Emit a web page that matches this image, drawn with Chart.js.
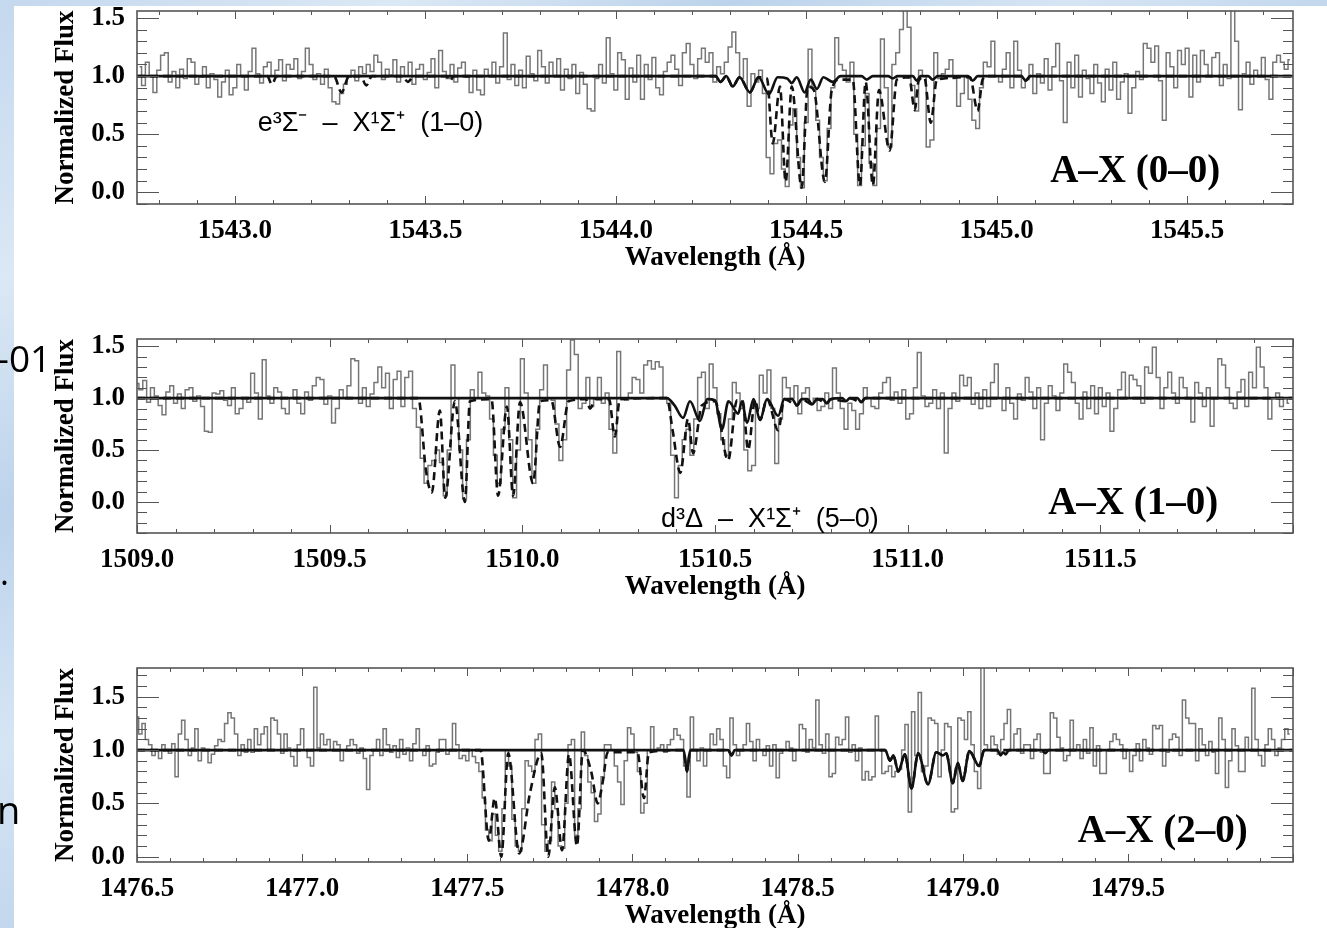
<!DOCTYPE html>
<html>
<head>
<meta charset="utf-8">
<script src="https://cdn.jsdelivr.net/npm/chart.js@4.4.0/dist/chart.umd.min.js"></script>
<style>
html,body{margin:0;padding:0;width:1327px;height:928px;overflow:hidden;background:#fff;}
.strip{position:absolute;background:linear-gradient(160deg,#c4d8ee 0%,#dbe8f5 30%,#bcd3eb 55%,#d6e5f4 80%,#c2d7ed 100%);}
canvas{position:absolute;left:0;}
.slide{position:absolute;font-family:"Open Sans","Noto Sans",sans-serif;color:#000;white-space:nowrap;line-height:1;}
</style>
</head>
<body>
<div class="strip" style="left:0;top:0;width:14px;height:928px"></div>
<div class="strip" style="left:0;top:0;width:1327px;height:6px"></div>
<canvas id="c1" width="1327" height="299" style="top:-25px"></canvas>
<canvas id="c2" width="1327" height="300" style="top:303px"></canvas>
<canvas id="c3" width="1327" height="300" style="top:632px"></canvas>
<div class="slide" style="left:-3px;top:339px;font-size:37px">-01</div>
<div class="slide" style="left:0px;top:555px;font-size:34px">.</div>
<div class="slide" style="left:-3px;top:790px;font-size:38px">n</div>
<script>
// ---- data ----
const binStep = 0.01;

// A-X (0-0), bins start at 1542.75 A
const wave1Start = 1542.75;
const flux1 = [
 1.08,0.92,1.12,1.0,0.86,1.05,1.18,1.2,0.95,1.04,
 0.9,1.06,0.98,1.15,1.12,0.93,0.99,1.08,0.9,1.02,
 0.97,0.82,0.95,1.05,0.84,0.9,1.1,1.0,0.88,1.04,
 1.24,1.02,0.94,1.08,1.12,1.0,1.05,1.14,0.96,1.1,
 1.06,1.15,0.98,1.04,1.24,1.1,0.97,1.02,0.93,1.06,
 0.9,0.78,0.76,0.85,0.93,0.99,1.05,0.96,1.08,1.02,
 1.1,1.04,1.18,1.12,0.97,1.06,1.01,1.14,0.95,1.08,
 1.0,1.12,0.93,1.06,1.1,0.97,1.03,1.15,0.9,1.22,
 1.04,0.98,1.1,0.95,1.07,1.12,0.99,0.86,1.05,0.88,
 0.84,1.06,1.0,1.12,0.94,1.08,1.37,0.97,1.1,0.92,
 1.05,0.9,1.17,1.02,0.96,1.22,1.08,0.94,1.12,1.0,
 1.15,0.88,1.06,0.98,1.1,0.85,1.03,0.93,0.72,0.7,
 0.98,1.1,0.94,1.33,1.02,0.88,1.2,1.14,0.8,1.07,
 0.95,1.18,0.8,1.1,0.97,1.16,0.9,0.84,1.04,1.12,
 1.18,1.06,0.92,1.2,1.28,1.1,0.98,1.15,1.24,1.12,
 1.2,0.95,1.08,1.02,1.12,1.25,1.38,1.2,0.98,1.15,
 0.74,1.02,0.95,1.05,0.85,0.3,0.16,0.42,0.45,0.2,
 0.05,0.58,0.72,0.3,0.04,0.6,1.23,0.9,0.62,0.3,
 0.1,0.55,0.9,1.33,1.1,1.05,0.95,1.12,0.5,0.06,
 0.4,0.85,0.25,0.06,0.55,1.32,0.9,0.39,1.1,1.2,
 1.4,1.57,1.42,0.92,0.7,1.05,1.0,0.39,0.45,1.2,
 0.98,1.02,1.06,1.14,0.98,0.74,0.85,1.0,0.8,0.62,
 0.55,0.9,1.12,1.08,1.3,1.0,0.95,1.06,1.2,0.9,
 1.3,1.05,0.9,0.97,1.1,0.85,1.02,0.94,1.15,0.88,
 1.08,1.28,0.96,0.6,1.12,0.9,1.18,0.82,1.05,0.98,
 0.85,1.1,0.94,0.78,1.06,0.88,1.12,0.8,0.95,1.02,
 0.68,0.9,1.04,0.97,1.28,1.24,1.12,1.26,0.96,0.62,
 1.2,1.08,0.9,1.22,1.1,1.24,0.82,1.18,0.95,1.22,
 1.1,1.0,1.16,1.2,0.92,1.1,0.98,1.57,1.3,0.71,
 1.02,1.12,0.93,1.05,1.0,1.16,0.97,0.8,1.12,1.18,
 1.12,1.06,1.14
];
const solid1 = [[1542.743,1],[1544.262,1],[1544.275,0.95],[1544.29,1],[1544.307,0.91],[1544.325,0.99],[1544.352,0.86],
 [1544.375,0.99],[1544.402,0.845],[1544.425,0.99],[1544.45,0.98],[1544.462,0.94],[1544.475,0.99],[1544.496,0.86],
 [1544.512,0.97],[1544.528,0.89],[1544.545,0.99],[1544.57,0.95],[1544.59,1],[1544.645,1],[1544.659,0.97],[1544.675,1],
 [1544.715,1],[1544.727,0.98],[1544.74,1],[1544.78,1],[1544.79,0.96],[1544.8,1],[1544.82,1],[1544.832,0.97],
 [1544.845,1],[1544.925,1],[1544.937,0.96],[1544.95,1],[1545.065,1],[1545.076,0.96],[1545.088,1],[1545.778,1]];
const dashed1 = [[1542.743,1],[1543.085,1],[1543.097,0.93],[1543.11,1],[1543.26,1],[1543.28,0.86],[1543.3,1],
 [1543.33,1],[1543.345,0.92],[1543.36,1],[1543.44,1],[1543.454,0.95],[1543.47,1],[1543.555,1],[1543.565,0.96],
 [1543.575,1],[1544.262,1],[1544.275,0.95],[1544.29,1],[1544.307,0.91],[1544.325,0.99],[1544.352,0.86],[1544.375,0.99],
 [1544.397,0.98],[1544.412,0.42],[1544.431,0.91],[1544.446,0.09],[1544.462,0.91],[1544.488,0.04],[1544.504,0.91],
 [1544.52,0.88],[1544.549,0.09],[1544.567,0.88],[1544.588,0.97],[1544.622,0.97],[1544.641,0.06],[1544.656,0.95],
 [1544.675,0.06],[1544.691,0.88],[1544.719,0.36],[1544.738,0.97],[1544.77,0.99],[1544.785,0.71],[1544.795,0.96],
 [1544.81,0.99],[1544.827,0.6],[1544.843,0.97],[1544.93,0.99],[1544.95,0.7],[1544.963,0.97],[1544.975,1],
 [1545.065,1],[1545.076,0.96],[1545.088,1],[1545.778,1]];
const ticks1 = [1543.0,1543.5,1544.0,1544.5,1545.0,1545.5];

// A-X (1-0), bins start at 1509.00 A
const wave2Start = 1509.0;
const flux2 = [
 1.14,1.08,1.17,0.96,1.1,1.02,0.93,0.84,1.06,1.12,
 0.95,1.04,0.9,1.08,1.1,0.97,1.02,0.92,0.68,0.67,
 1.05,1.04,1.07,0.98,0.93,1.1,0.85,0.9,1.0,0.96,
 1.24,1.05,0.8,1.37,1.02,0.95,1.1,1.06,0.9,0.85,
 1.0,1.08,0.95,0.85,1.06,0.98,1.12,1.2,1.18,0.94,
 1.02,0.76,0.9,1.08,1.0,1.12,1.38,1.36,0.95,1.1,
 0.92,1.04,1.15,1.3,1.1,1.24,0.9,1.18,1.26,0.92,
 1.2,1.26,0.9,0.72,0.42,0.18,0.35,0.4,0.5,0.38,
 0.06,0.5,1.32,1.0,0.5,0.03,0.6,1.08,1.0,1.25,
 1.05,1.02,0.8,0.45,0.18,0.7,1.1,0.6,0.04,0.5,
 1.38,1.05,0.6,0.18,0.7,1.08,1.32,1.0,0.98,0.75,
 0.4,0.6,1.27,1.56,1.42,0.9,0.95,1.2,0.92,1.0,
 1.2,0.95,1.05,0.7,0.47,1.45,1.0,0.98,1.05,1.2,
 1.18,1.05,1.32,1.36,1.28,1.35,1.3,1.0,0.95,0.45,
 0.04,0.35,0.6,0.7,0.45,0.8,1.2,1.25,0.9,1.33,
 1.1,0.85,0.6,0.45,0.8,1.15,1.05,0.9,0.5,0.3,
 0.35,0.9,1.22,1.05,1.27,0.9,0.37,0.8,1.2,1.1,
 1.0,1.12,0.85,1.05,1.1,0.95,1.0,0.88,0.92,1.05,
 0.9,1.29,1.05,0.9,0.7,0.95,0.88,0.7,0.85,1.1,
 1.0,0.92,0.9,1.05,1.15,1.2,0.98,1.06,0.95,1.08,
 0.8,0.85,1.1,1.44,1.02,0.92,0.95,1.08,0.9,1.05,
 0.47,0.9,1.05,0.97,1.22,1.12,1.2,0.94,1.05,0.9,
 1.08,0.92,1.15,1.33,1.0,0.88,1.1,0.95,0.8,1.04,
 0.98,1.2,1.06,0.9,1.1,0.6,0.95,1.12,1.02,0.88,
 1.05,1.33,1.25,1.15,0.95,0.8,1.06,0.9,1.12,0.85,
 1.1,0.92,1.05,0.68,0.9,1.08,1.25,1.0,1.22,1.18,
 1.12,0.95,1.3,1.24,1.49,1.2,0.9,1.1,1.25,1.05,
 0.95,1.2,1.1,1.0,0.77,1.15,1.05,0.92,1.1,0.73,
 1.0,1.38,1.32,1.1,0.95,0.9,1.06,1.18,0.92,1.25,
 1.1,1.49,1.3,1.1,0.8,1.0,1.05,0.92,1.0,0.95
];
const solid2 = [[1509.0,1],[1510.375,1],[1510.395,0.93],[1510.417,0.81],[1510.435,0.97],[1510.461,0.78],[1510.48,0.99],
 [1510.5,0.98],[1510.518,0.7],[1510.535,0.97],[1510.56,0.85],[1510.57,0.97],[1510.583,0.76],[1510.6,0.99],
 [1510.617,0.79],[1510.635,0.99],[1510.664,0.83],[1510.68,0.99],[1510.7,0.99],[1510.713,0.93],[1510.725,0.99],
 [1510.74,0.99],[1510.752,0.94],[1510.765,0.99],[1510.78,0.99],[1510.79,0.95],[1510.8,0.99],[1510.83,1],
 [1510.84,0.97],[1510.85,1],[1510.87,1],[1510.879,0.96],[1510.89,1],[1512.0,1]];
const dashed2 = [[1509.0,1],[1509.73,1],[1509.75,0.3],[1509.765,0.09],[1509.786,0.88],[1509.8,0.04],[1509.825,0.97],
 [1509.851,0.0],[1509.864,0.97],[1509.92,0.99],[1509.937,0.06],[1509.96,0.92],[1509.976,0.06],[1509.994,0.96],
 [1510.028,0.18],[1510.046,0.97],[1510.075,0.98],[1510.098,0.53],[1510.12,0.97],[1510.165,0.99],[1510.176,0.9],
 [1510.19,0.99],[1510.225,0.99],[1510.24,0.63],[1510.253,0.99],[1510.375,1],[1510.39,0.69],[1510.41,0.28],
 [1510.43,0.8],[1510.443,0.47],[1510.466,0.93],[1510.5,0.97],[1510.534,0.4],[1510.557,0.98],[1510.572,0.97],
 [1510.586,0.5],[1510.604,0.98],[1510.617,0.79],[1510.635,0.99],[1510.664,0.69],[1510.68,0.99],[1510.713,0.93],
 [1510.725,0.99],[1510.752,0.94],[1510.765,0.99],[1510.79,0.95],[1510.8,0.99],[1510.84,0.97],[1510.85,1],
 [1510.879,0.96],[1510.89,1],[1512.0,1]];
const ticks2 = [1509.0,1509.5,1510.0,1510.5,1511.0,1511.5];

// A-X (2-0), bins start at 1476.50 A
const wave3Start = 1476.5;
const flux3 = [
 1.31,1.15,1.25,1.1,1.05,0.95,1.0,0.92,1.05,1.0,
 0.97,1.06,0.75,1.15,1.28,1.1,0.95,1.02,1.2,0.9,
 1.02,1.0,0.88,0.96,1.04,1.1,1.08,1.25,1.35,1.3,
 1.15,0.95,1.05,0.98,1.1,0.98,1.2,1.05,1.15,1.22,
 1.0,1.3,1.28,1.15,0.97,1.15,1.02,0.94,0.85,1.05,
 1.2,1.0,0.93,0.85,1.59,1.02,1.15,1.05,1.1,1.0,
 1.08,1.05,0.9,1.0,1.04,1.1,1.05,0.97,1.02,0.92,
 0.63,0.95,1.0,1.1,0.95,1.2,1.05,0.98,1.04,0.93,
 1.1,0.96,1.02,0.9,1.06,1.2,1.0,0.95,1.04,0.85,
 0.87,0.98,1.1,1.1,0.96,1.0,1.25,1.05,0.92,0.95,
 0.9,1.0,0.94,0.88,0.8,0.55,0.25,0.15,0.4,0.2,
 0.05,0.45,1.0,0.85,0.35,0.1,0.05,0.45,0.9,0.85,
 0.8,1.1,1.15,0.3,0.05,0.15,0.7,0.45,0.1,0.08,
 0.5,1.05,1.1,0.2,0.45,1.17,0.95,0.7,0.6,0.33,
 0.4,0.75,1.05,1.05,1.0,0.85,0.7,0.49,0.9,1.21,
 1.15,0.98,0.8,0.41,0.5,1.0,1.22,1.0,1.02,1.05,
 0.98,1.05,1.1,1.2,1.14,1.1,0.85,0.56,1.31,1.0,
 0.9,1.02,0.85,1.0,1.15,1.05,1.2,1.1,0.85,0.74,
 1.3,1.05,0.95,1.0,1.05,1.25,1.08,0.9,1.1,1.0,
 0.95,1.04,0.85,1.05,0.74,0.97,1.0,1.08,1.02,0.9,
 1.0,1.24,1.2,0.98,1.1,1.02,1.47,1.05,0.97,1.15,
 0.75,0.78,1.12,1.05,1.1,1.31,0.98,1.05,0.9,1.02,
 0.72,0.8,0.72,0.75,1.32,1.0,0.78,0.8,0.85,0.75,
 0.8,0.82,1.0,1.24,0.42,1.36,0.95,1.54,0.8,0.85,
 1.3,1.28,1.25,0.75,1.0,1.25,1.22,0.42,0.45,1.3,
 1.28,1.1,1.36,1.05,0.8,0.64,1.8,1.05,1.0,1.13,
 1.05,0.96,1.1,1.25,1.38,1.0,1.15,1.2,0.97,1.05,
 1.05,0.92,1.1,1.15,0.98,0.78,0.78,1.35,1.3,1.12,
 1.02,0.9,0.95,1.28,1.0,1.05,0.92,1.1,0.97,1.21,
 0.85,1.04,0.78,0.78,1.0,1.08,1.15,1.1,1.05,0.92,
 1.0,0.8,0.95,1.06,0.9,1.1,1.02,0.96,1.23,1.2,
 1.23,0.85,0.98,1.1,1.15,1.12,0.95,1.47,1.3,1.25,
 1.25,0.9,1.2,1.05,0.95,1.08,0.98,0.78,1.3,1.1,
 0.65,0.9,1.2,1.04,0.8,0.8,1.12,1.0,1.58,1.1,
 0.95,0.85,1.05,1.2,1.1,0.95,1.02,1.1,1.2,1.15
];
const solid3 = [[1476.5,1],[1478.155,1],[1478.165,0.8],[1478.175,1],[1478.29,1],[1478.3,0.95],[1478.31,1],
 [1478.765,1],[1478.78,0.9],[1478.79,0.95],[1478.805,0.8],[1478.825,0.96],[1478.845,0.64],[1478.865,0.97],
 [1478.895,0.68],[1478.92,0.98],[1478.94,0.95],[1478.95,0.97],[1478.97,0.69],[1478.985,0.88],[1479.0,0.71],
 [1479.02,0.99],[1479.05,0.85],[1479.065,1],[1479.105,1],[1479.115,0.95],[1479.122,0.98],[1479.13,0.96],
 [1479.14,1],[1479.24,1],[1479.25,0.97],[1479.26,1],[1480.0,1]];
const dashed3 = [[1476.5,1],[1477.54,1],[1477.565,0.15],[1477.583,0.55],[1477.603,0.0],[1477.624,0.97],
 [1477.657,0.03],[1477.69,0.6],[1477.724,0.97],[1477.745,0.0],[1477.765,0.65],[1477.787,0.06],[1477.808,0.96],
 [1477.832,0.1],[1477.85,1],[1477.875,0.8],[1477.895,0.5],[1477.91,0.7],[1477.925,0.98],[1478.015,0.98],
 [1478.035,0.55],[1478.05,0.98],[1478.155,1],[1478.165,0.8],[1478.175,1],[1478.29,1],[1478.3,0.95],[1478.31,1],
 [1478.765,1],[1478.78,0.9],[1478.79,0.95],[1478.805,0.8],[1478.825,0.96],[1478.845,0.64],[1478.865,0.97],
 [1478.895,0.68],[1478.92,0.98],[1478.94,0.95],[1478.95,0.97],[1478.97,0.69],[1478.985,0.88],[1479.0,0.71],
 [1479.02,0.99],[1479.05,0.85],[1479.065,1],[1480.0,1]];
const ticks3 = [1476.5,1477.0,1477.5,1478.0,1478.5,1479.0,1479.5];

const fluxTicks = [0, 0.5, 1.0, 1.5];

// ---- drawing ----
const serif = '"Liberation Serif","Times New Roman",serif';
const axisFont = {family: serif, weight: 'bold', size: 27};

const bins = (start, flux) => flux.map((f, i) => ({x: +(start + i * binStep).toFixed(3), y: f}));
const pts = list => list.map(([x, y]) => ({x, y}));

// IDL style box with inward ticks, plus the in-panel labels
const idlFrame = {
  id: 'idlFrame',
  afterDatasetsDraw(chart, args, opts) {
    const {ctx, chartArea: a} = chart;
    const x = chart.scales.x, y = chart.scales.y;
    ctx.save();
    ctx.strokeStyle = '#555';
    ctx.lineWidth = 1;
    ctx.beginPath();
    for (let k = Math.ceil(x.min * 10 - 1e-6); k <= Math.floor(x.max * 10 + 1e-6); k++) {
      const px = Math.round(x.getPixelForValue(k / 10)) + 0.5;
      const len = k % 5 === 0 ? 8 : 4;
      ctx.moveTo(px, a.bottom); ctx.lineTo(px, a.bottom - len);
      ctx.moveTo(px, a.top); ctx.lineTo(px, a.top + len);
    }
    for (let k = Math.ceil(y.min * 10 - 1e-6); k <= Math.floor(y.max * 10 + 1e-6); k++) {
      const py = Math.round(y.getPixelForValue(k / 10)) + 0.5;
      const len = k % 5 === 0 ? 22 : 10;
      ctx.moveTo(a.left, py); ctx.lineTo(a.left + len, py);
      ctx.moveTo(a.right, py); ctx.lineTo(a.right - len, py);
    }
    ctx.stroke();
    ctx.lineWidth = 1.6;
    ctx.strokeRect(a.left, a.top, a.right - a.left, a.bottom - a.top);
    ctx.fillStyle = '#000';
    ctx.textBaseline = 'middle';
    (opts.notes || []).forEach(n => {
      ctx.font = n.font;
      ctx.textAlign = n.align;
      ctx.fillText(n.text, x.getPixelForValue(n.x), y.getPixelForValue(n.y));
    });
    ctx.restore();
  }
};

function makePanel(id, spec) {
  return new Chart(document.getElementById(id), {
    type: 'line',
    data: {datasets: [
      {data: pts(spec.solid), borderColor: '#111', borderWidth: 2.6, pointRadius: 0, cubicInterpolationMode: 'monotone'},
      {data: pts(spec.dashed), borderColor: '#111', borderWidth: 2.6, borderDash: [8, 5], pointRadius: 0, cubicInterpolationMode: 'monotone'},
      {data: spec.spectrum, borderColor: '#767676', borderWidth: 1.5, pointRadius: 0, stepped: 'middle'}
    ]},
    options: {
      responsive: false, animation: false, devicePixelRatio: 1,
      layout: {padding: {left: 50, right: 34, top: 36, bottom: 0}},
      plugins: {legend: {display: false}, tooltip: {enabled: false}, idlFrame: {notes: spec.notes}},
      scales: {
        x: {
          type: 'linear', min: spec.xmin, max: spec.xmax,
          grid: {display: false, drawTicks: false}, border: {display: false},
          afterBuildTicks: s => { s.ticks = spec.ticks.map(v => ({value: v})); },
          afterFit: s => { s.height = 70; },
          ticks: {color: '#000', font: axisFont, padding: 11, autoSkip: false, maxRotation: 0,
                  callback: v => Number(v).toFixed(1)},
          title: {display: true, text: 'Wavelength (Å)', color: '#000', font: axisFont, padding: 0}
        },
        y: {
          min: spec.ymin, max: spec.ymax,
          grid: {display: false, drawTicks: false}, border: {display: false},
          afterBuildTicks: s => { s.ticks = fluxTicks.map(v => ({value: v})); },
          afterFit: s => { s.width = 87; },
          ticks: {color: '#000', font: axisFont, padding: 12, callback: v => Number(v).toFixed(1)},
          title: {display: true, text: 'Normalized Flux', color: '#000', font: axisFont, padding: 0}
        }
      }
    },
    plugins: [idlFrame]
  });
}

const sans = '27px "Liberation Sans", Arial, sans-serif';
const big = 'bold 39px ' + serif;

makePanel('c1', {
  spectrum: bins(wave1Start, flux1), solid: solid1, dashed: dashed1, ticks: ticks1,
  xmin: 1542.743, xmax: 1545.778, ymin: -0.1, ymax: 1.56,
  notes: [
    {text: 'e³Σ⁻  –  X¹Σ⁺  (1–0)', x: 1543.06, y: 0.59, font: sans, align: 'left'},
    {text: 'A–X (0–0)', x: 1545.587, y: 0.18, font: big, align: 'right'}
  ]
});
makePanel('c2', {
  spectrum: bins(wave2Start, flux2), solid: solid2, dashed: dashed2, ticks: ticks2,
  xmin: 1509.0, xmax: 1512.0, ymin: -0.3, ymax: 1.57,
  notes: [
    {text: 'd³Δ  –  X¹Σ⁺  (5–0)', x: 1510.36, y: -0.17, font: sans, align: 'left'},
    {text: 'A–X (1–0)', x: 1511.806, y: -0.02, font: big, align: 'right'}
  ]
});
makePanel('c3', {
  spectrum: bins(wave3Start, flux3), solid: solid3, dashed: dashed3, ticks: ticks3,
  xmin: 1476.5, xmax: 1480.0, ymin: -0.05, ymax: 1.77,
  notes: [
    {text: 'A–X (2–0)', x: 1479.863, y: 0.23, font: big, align: 'right'}
  ]
});
</script>
</body>
</html>
